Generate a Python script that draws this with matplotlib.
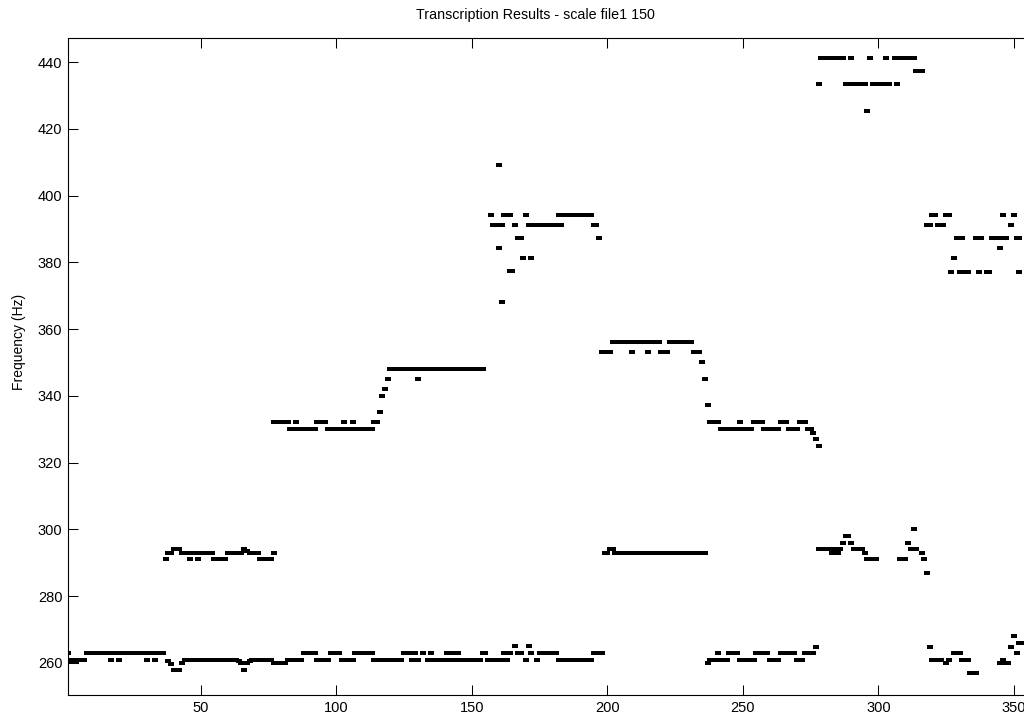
import numpy as np
import matplotlib.pyplot as plt

# pitch track: (first frame, last frame, frequency in Hz)
low_runs = [
    (1, 1, 263.1), (1, 7, 260.9), (2, 4, 260.3), (8, 16, 263.1), (17, 17, 260.9),
    (18, 19, 263.1), (20, 20, 260.9), (21, 29, 263.1), (30, 30, 260.9),
    (31, 32, 263.1), (33, 33, 260.9), (34, 36, 263.1), (38, 38, 260.5),
    (39, 39, 259.7), (40, 42, 257.9), (43, 43, 259.9), (44, 63, 260.9),
    (64, 64, 260.5), (65, 65, 260.0), (66, 66, 257.9), (67, 67, 259.9),
    (68, 68, 260.5), (69, 76, 260.9), (77, 81, 260.1), (82, 87, 260.9),
    (88, 92, 263.1), (93, 97, 260.9), (98, 101, 263.1), (102, 106, 260.9),
    (107, 113, 263.1), (114, 124, 260.9), (125, 127, 263.1), (128, 128, 260.9),
    (129, 129, 263.1), (130, 130, 260.9), (132, 132, 263.1), (134, 134, 260.9),
    (135, 135, 263.1), (136, 140, 260.9), (141, 141, 263.1), (142, 142, 260.9),
    (143, 143, 263.1), (144, 144, 260.9), (145, 145, 263.1), (146, 153, 260.9),
    (154, 155, 263.1), (156, 161, 260.9), (162, 162, 263.1), (163, 163, 260.9),
    (164, 164, 263.1), (166, 166, 265.1), (167, 168, 263.1), (170, 170, 260.9),
    (171, 171, 265.1), (172, 172, 263.1), (174, 174, 260.9), (175, 181, 263.1),
    (182, 182, 260.9), (184, 194, 260.9), (195, 198, 263.1),
    (237, 237, 259.9), (238, 240, 260.9), (241, 241, 263.1), (242, 244, 260.9),
    (245, 248, 263.1), (249, 254, 260.9), (255, 259, 263.1), (260, 263, 260.9),
    (264, 269, 263.1), (270, 272, 260.9), (273, 276, 263.1), (277, 277, 264.9),
    (319, 319, 264.9), (320, 323, 260.9), (325, 325, 259.9), (326, 326, 260.9),
    (328, 330, 263.1), (331, 333, 260.9), (334, 336, 256.9), (345, 345, 259.9),
    (346, 346, 260.9), (347, 348, 259.9), (349, 349, 264.9), (350, 350, 268.1),
    (351, 351, 263.1), (352, 356, 266.1),
]

d_runs = [
    (37, 37, 291.0), (38, 39, 292.8), (40, 42, 294.0), (43, 45, 292.8),
    (46, 46, 291.0), (47, 48, 292.8), (49, 49, 291.0), (50, 54, 292.8),
    (55, 59, 291.0), (60, 65, 292.8), (66, 66, 294.0), (67, 67, 293.5),
    (68, 69, 292.8), (71, 71, 292.8), (72, 76, 291.0), (77, 77, 292.8),
    (199, 200, 292.8), (201, 202, 294.0), (203, 236, 292.8),
    (278, 282, 294.0), (283, 283, 292.8), (284, 284, 294.0), (285, 285, 292.8),
    (286, 286, 294.0), (287, 287, 296.0), (288, 289, 298.0), (290, 290, 296.0),
    (291, 294, 294.0), (295, 295, 292.8), (296, 299, 291.0),
    (308, 310, 291.0), (311, 311, 296.0), (312, 314, 294.0), (313, 313, 300.0),
    (316, 316, 292.8), (317, 317, 291.0), (318, 318, 287.0),
]

e_runs = [
    (77, 82, 332.1), (83, 84, 330.1), (85, 85, 332.1), (86, 92, 330.1),
    (93, 96, 332.1), (97, 102, 330.1), (103, 103, 332.1), (104, 105, 330.1),
    (106, 106, 332.1), (107, 113, 330.1), (114, 115, 332.1), (116, 116, 335.1),
    (117, 117, 340.1), (118, 118, 342.1), (119, 119, 345.1),
    (238, 241, 332.1), (242, 248, 330.1), (249, 249, 332.1), (250, 253, 330.1),
    (254, 257, 332.1), (258, 263, 330.1), (264, 266, 332.1), (267, 270, 330.1),
    (271, 273, 332.1), (274, 275, 330.1), (276, 276, 329.0), (277, 277, 327.0),
    (278, 278, 325.0),
]

f_runs = [
    (120, 129, 348.1), (130, 130, 345.1), (131, 138, 348.1), (140, 154, 348.1),
]

gs_runs = [
    (198, 201, 353.2), (202, 208, 356.2), (209, 209, 353.2), (210, 214, 356.2),
    (215, 215, 353.2), (215, 219, 356.2), (220, 222, 353.2), (223, 231, 356.2),
    (232, 234, 353.2), (235, 235, 350.2), (236, 236, 345.2), (237, 237, 337.2),
]

g_runs = [
    (157, 157, 394.1), (158, 159, 391.1), (160, 160, 384.2), (160, 160, 409.1),
    (161, 161, 391.1), (161, 161, 368.2), (162, 164, 394.1), (164, 165, 377.3),
    (166, 166, 391.1), (167, 168, 387.2), (169, 169, 381.2), (170, 170, 394.1),
    (171, 171, 391.1), (172, 172, 381.2), (173, 181, 391.1), (182, 182, 394.1),
    (183, 183, 391.1), (184, 194, 394.1), (195, 196, 391.1), (197, 197, 387.2),
    (318, 319, 391.1), (320, 321, 394.1), (322, 324, 391.1), (325, 326, 394.1),
    (327, 327, 377.2), (328, 328, 381.2), (329, 331, 387.2), (330, 333, 377.2),
    (336, 336, 387.2), (337, 337, 377.2), (338, 338, 387.2), (340, 341, 377.2),
    (342, 344, 387.2), (345, 345, 384.2), (346, 346, 394.1), (346, 347, 387.2),
    (349, 349, 391.1), (350, 350, 394.1), (351, 352, 387.2), (352, 352, 377.2),
]

a_runs = [
    (278, 278, 433.3), (279, 287, 441.2), (288, 289, 433.3), (290, 290, 441.2),
    (291, 295, 433.3), (296, 296, 425.3), (297, 297, 441.2), (298, 302, 433.3),
    (303, 303, 441.2), (304, 304, 433.3), (306, 306, 441.2), (307, 307, 433.3),
    (308, 313, 441.2), (314, 316, 437.2),
]

xticks = [50, 100, 150, 200, 250, 300, 350]
yticks = [260, 280, 300, 320, 340, 360, 380, 400, 420, 440]


def expand(runs):
    xs, ys = [], []
    for a, b, hz in runs:
        for fr in range(a, b + 1):
            xs.append(fr)
            ys.append(hz)
    return xs, ys


plt.rcParams['font.family'] = ['Liberation Sans', 'DejaVu Sans']
plt.rcParams['savefig.bbox'] = 'standard'

fig = plt.figure(figsize=(10.24, 7.17), dpi=100)
# the screenshot is cut on the right, so the axes run up to the figure edge
ax = fig.add_axes([68 / 1024, 22 / 717, 956 / 1024, 657 / 717])

# small flat rectangle, like matlab's '.' marker on screen
rect = [(-1.6, -1), (1.6, -1), (1.6, 1), (-1.6, 1)]
for runs in [low_runs, d_runs, e_runs, f_runs, gs_runs, g_runs, a_runs]:
    xs, ys = expand(runs)
    ax.plot(xs, ys, ls='none', marker=rect, ms=3.7, mew=0, color='black')

ax.set_xlim(1, 1 + 956 / 2.71)
ax.set_ylim(250.4, 447.2)
ax.set_xticks(xticks)
ax.set_yticks(yticks)
ax.tick_params(direction='in', length=7, width=0.75, top=True, right=False,
               labelsize=10.5, pad=4)
for sp in ax.spines.values():
    sp.set_linewidth(0.8)
ax.spines['right'].set_visible(False)

fig.text(535 / 1024, 1 - 15 / 717, 'Transcription Results - scale file1 150',
         ha='center', va='center', fontsize=10.3)
fig.text(19 / 1024, 1 - 342 / 717, 'Frequency (Hz)', rotation=90,
         ha='center', va='center', fontsize=10)

fig.savefig('out.png', dpi=100)
